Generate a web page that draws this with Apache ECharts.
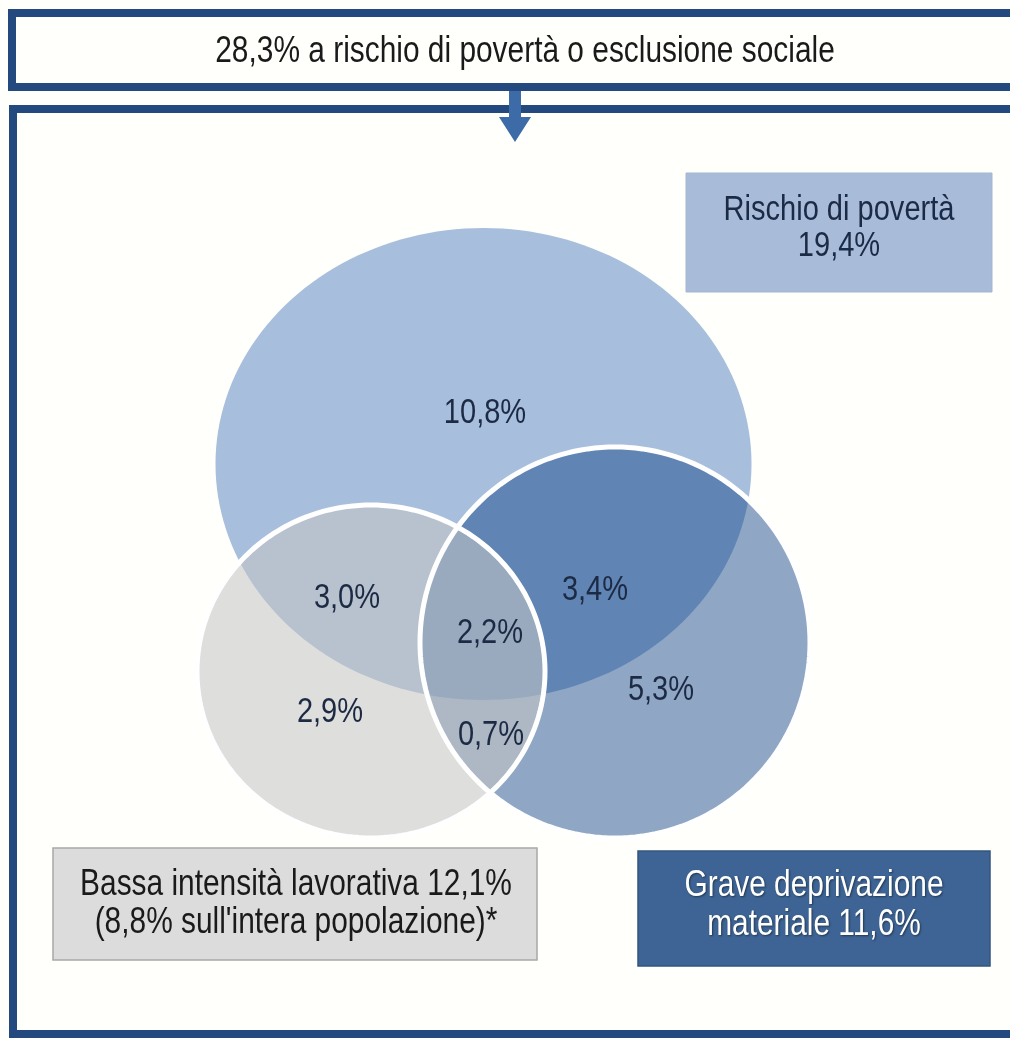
<!DOCTYPE html>
<html><head><meta charset="utf-8">
<script src="https://cdn.jsdelivr.net/npm/echarts@6/dist/echarts.min.js"></script>
<style>html,body{margin:0;padding:0;background:#fffffb}#c{width:1010px;height:1039px}</style>
</head><body><div id="c"></div>
<script>
// ---------- DATA ----------
const headlineValue = 28.3;
const headlineText = 'a rischio di povertà o esclusione sociale';
const setNames = ['Rischio di povertà', 'Bassa intensità lavorativa', 'Grave deprivazione materiale'];
const setTotals = [19.4, 12.1, 11.6];
const lowWorkWholePopulation = 8.8;
const regionNames = ['Solo rischio di povertà', 'Povertà + bassa intensità', 'Tutti e tre', 'Povertà + deprivazione', 'Solo bassa intensità', 'Bassa intensità + deprivazione', 'Solo deprivazione'];
const regionValues = [10.8, 3.0, 2.2, 3.4, 2.9, 0.7, 5.3];

// ---------- LAYOUT (page units, y downward) ----------
const ellipseLayout = [
  { cx: 483.5, cy: 464, rx: 268, ry: 236, fill: '#a7bfdd', outline: false },
  { cx: 371, cy: 671.5, rx: 174, ry: 166.5, fill: 'rgba(197,197,197,0.57)', outline: true },
  { cx: 615, cy: 642.5, rx: 195, ry: 195.5, fill: 'rgba(16,67,134,0.47)', outline: true }
];
const drawOrder = [0, 2, 1];
const regionLabelPos = [
  [485, 413], [347, 598], [490, 633], [595, 590], [330, 712], [491, 735], [661, 690]
];
const FONT = '"Liberation Sans", Arial, sans-serif';
const SX = 0.83;

const fmt = v => v.toFixed(1).replace('.', ',') + '%';

function ellipsePoints(c, r) {
  const pts = [];
  for (let k = 0; k < 180; k++) {
    const t = k / 180 * Math.PI * 2;
    pts.push([c[0] + r[0] * Math.cos(t), c[1] + r[1] * Math.sin(t)]);
  }
  return pts;
}

const boxTexts = [
  setNames[0] + '\n' + fmt(setTotals[0]),
  setNames[1] + ' ' + fmt(setTotals[1]) + '\n(' + fmt(lowWorkWholePopulation) + " sull'intera popolazione)*",
  setNames[2].replace(' materiale', '\nmateriale') + ' ' + fmt(setTotals[2])
];

const chart = echarts.init(document.getElementById('c'), null, { renderer: 'canvas' });
chart.setOption({
  backgroundColor: '#fffffb',
  animation: false,
  grid: { left: 0, right: 0, top: 0, bottom: 0 },
  xAxis: { type: 'value', min: 0, max: 1010, show: false },
  yAxis: { type: 'value', min: 0, max: 1039, inverse: true, show: false },
  graphic: [
    { type: 'rect', z: 1, shape: { x: 12, y: 13, width: 1030, height: 74 },
      style: { fill: '#fffffb', stroke: '#23497f', lineWidth: 8 } },
    { type: 'rect', z: 1, shape: { x: 13, y: 109, width: 1030, height: 925 },
      style: { fill: '#fffffb', stroke: '#23497f', lineWidth: 8 } },
    { type: 'polygon', z: 2, shape: { points: [[509, 91], [521, 91], [521, 117], [531, 117], [515, 142], [499, 117], [509, 117]] },
      style: { fill: '#3d6ba8' } },
    { type: 'text', z: 3, x: 525, y: 52, scaleX: SX,
      style: { text: fmt(headlineValue) + ' ' + headlineText, font: '36px ' + FONT, fill: '#1a1a1a', align: 'center', verticalAlign: 'middle' } },
    // set boxes
    { type: 'rect', z: 1, shape: { x: 686, y: 173, width: 306, height: 119 },
      style: { fill: '#a8bcda', stroke: '#a3b6d3', lineWidth: 1 } },
    { type: 'text', z: 3, x: 839, y: 228, scaleX: SX,
      style: { text: boxTexts[0], font: '35px ' + FONT, lineHeight: 36, fill: '#1b2a45', align: 'center', verticalAlign: 'middle' } },
    { type: 'rect', z: 1, shape: { x: 53, y: 848, width: 484, height: 112 },
      style: { fill: '#dcdcdc', stroke: '#a8a8a8', lineWidth: 1.5 } },
    { type: 'text', z: 3, x: 296, y: 904, scaleX: SX,
      style: { text: boxTexts[1], font: '36px ' + FONT, lineHeight: 38, fill: '#1a1a1a', align: 'center', verticalAlign: 'middle' } },
    { type: 'rect', z: 1, shape: { x: 638, y: 851, width: 352, height: 115 },
      style: { fill: '#3d6494', stroke: '#34557e', lineWidth: 1.5 } },
    { type: 'text', z: 3, x: 814, y: 906, scaleX: SX,
      style: { text: boxTexts[2], font: '36px ' + FONT, lineHeight: 39, fill: '#ffffff', align: 'center', verticalAlign: 'middle',
        textShadowColor: 'rgba(0,0,0,0.45)', textShadowBlur: 2, textShadowOffsetX: 1, textShadowOffsetY: 1 } }
  ],
  series: [
    {
      type: 'custom', name: 'fills', clip: false, z: 5,
      data: drawOrder.map(i => [i, setTotals[i]]),
      renderItem: (params, api) => {
        const L = ellipseLayout[api.value(0)];
        const c = api.coord([L.cx, L.cy]);
        const s = api.size([L.rx, L.ry]);
        return { type: 'polygon', shape: { points: ellipsePoints(c, s) }, style: { fill: L.fill } };
      }
    },
    {
      type: 'custom', name: 'outlines', clip: false, z: 6,
      data: drawOrder.map(i => [i, setTotals[i]]),
      renderItem: (params, api) => {
        const L = ellipseLayout[api.value(0)];
        if (!L.outline) return null;
        const c = api.coord([L.cx, L.cy]);
        const s = api.size([L.rx, L.ry]);
        return { type: 'polygon', shape: { points: ellipsePoints(c, s) }, style: { fill: null, stroke: '#ffffff', lineWidth: 5 } };
      }
    },
    {
      type: 'custom', name: 'regions', clip: false, z: 7,
      data: regionValues.map((v, i) => [i, v]),
      renderItem: (params, api) => {
        const i = api.value(0);
        const p = api.coord(regionLabelPos[i]);
        return { type: 'text', x: p[0], y: p[1], scaleX: SX,
          style: { text: fmt(api.value(1)), font: '35px ' + FONT, fill: '#1c2a44', align: 'center', verticalAlign: 'middle' } };
      }
    }
  ]
});
</script>
</body></html>
